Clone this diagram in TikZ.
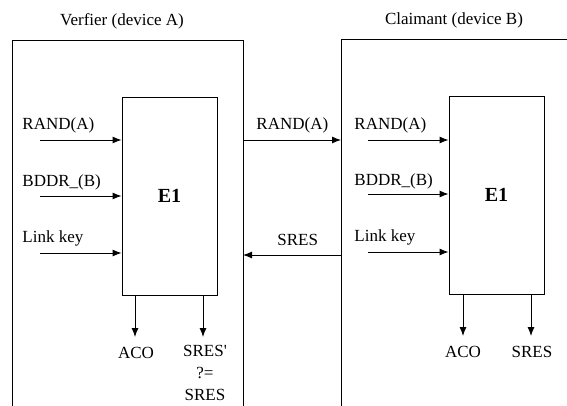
\documentclass[tikz,border=0pt]{standalone}
\usepackage{fontspec}
\setmainfont{Liberation Serif}[Ligatures=TeXOff]
\usetikzlibrary{arrows.meta}
\begin{document}
\begin{tikzpicture}[x=1pt,y=-1pt,line width=0.9pt,
  arr/.style={-{Latex[length=9pt,width=7pt]}},
  lbl/.style={inner sep=0pt,font=\fontsize{17}{22}\selectfont},
  fnbox/.style={draw,minimum width=95pt,minimum height=198pt,inner sep=0pt,font=\fontsize{20}{22}\selectfont\bfseries}]
\useasboundingbox (0,0) rectangle (567,406);
% outer device frames
\draw (12,406) -- (12,40) -- (243,40) -- (243,406);
\draw (341,406) -- (341,39) -- (567,39);
\node[lbl] (ta) at (122,21) {Verfier (device A)};
\node[lbl] (tb) at (454,20) {Claimant (device B)};
% E1 boxes
\node[fnbox] (e1a) at (169.5,196) {E1};
\node[fnbox] (e1b) at (496.5,195) {E1};
% left inputs
\coordinate (ia1) at (40,140);
\coordinate (ia2) at (40,196);
\coordinate (ia3) at (40,253);
\draw[arr] (ia1) -- (e1a.west |- ia1);
\draw[arr] (ia2) -- (e1a.west |- ia2);
\draw[arr] (ia3) -- (e1a.west |- ia3);
\node[lbl,anchor=west] (la1) at (22,125) {RAND(A)};
\node[lbl,anchor=west] (la2) at (22,182) {BDDR\_(B)};
\node[lbl,anchor=west] (la3) at (22,238) {Link key};
% right inputs
\coordinate (ib1) at (368,140);
\coordinate (ib2) at (368,194);
\coordinate (ib3) at (368,252);
\draw[arr] (ib1) -- (e1b.west |- ib1);
\draw[arr] (ib2) -- (e1b.west |- ib2);
\draw[arr] (ib3) -- (e1b.west |- ib3);
\node[lbl,anchor=west] (lb1) at (354,125) {RAND(A)};
\node[lbl,anchor=west] (lb2) at (354,181) {BDDR\_(B)};
\node[lbl,anchor=west] (lb3) at (354,237) {Link key};
% exchange between devices
\coordinate (ma) at (243,140);
\coordinate (mb) at (341,140);
\coordinate (sa) at (243,255);
\coordinate (sb) at (341,255);
\draw[arr] (ma) -- (mb);
\draw[arr] (sb) -- (sa);
\node[lbl,anchor=west] (mrand) at (256,125) {RAND(A)};
\node[lbl,anchor=west] (msres) at (277,240) {SRES};
% left outputs
\coordinate (oa1) at (135,337);
\coordinate (oa2) at (203,337);
\draw[arr] (e1a.south -| oa1) -- (oa1);
\draw[arr] (e1a.south -| oa2) -- (oa2);
\node[lbl] (aco1) at (136,353) {ACO};
\node[lbl,align=center] (sres1) at (205,373) {SRES'\\?=\\SRES};
% right outputs
\coordinate (ob1) at (463,336);
\coordinate (ob2) at (531,336);
\draw[arr] (e1b.south -| ob1) -- (ob1);
\draw[arr] (e1b.south -| ob2) -- (ob2);
\node[lbl] (aco2) at (463,352) {ACO};
\node[lbl] (sres2) at (532,352) {SRES};
\end{tikzpicture}
\end{document}
